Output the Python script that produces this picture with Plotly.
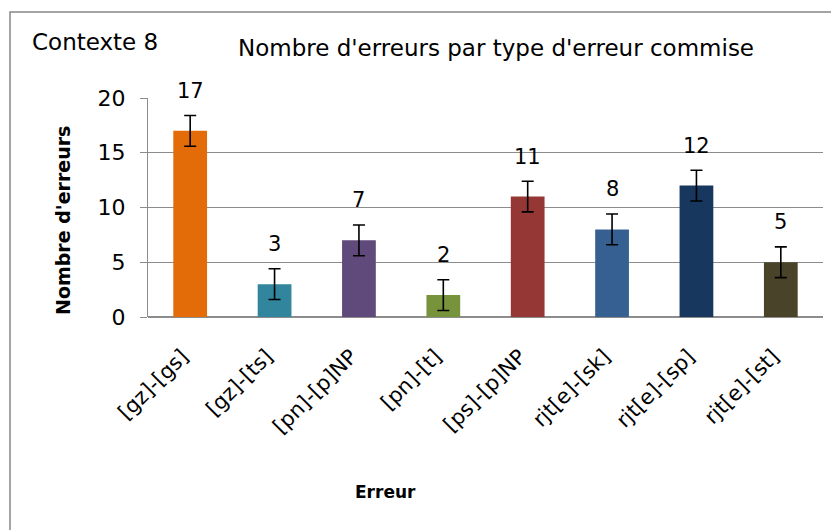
import plotly.graph_objects as go

categories = ["[gz]-[gs]", "[gz]-[ts]", "[pn]-[p]NP", "[pn]-[t]", "[ps]-[p]NP",
              "rjt[e]-[sk]", "rjt[e]-[sp]", "rjt[e]-[st]"]
values = [17, 3, 7, 2, 11, 8, 12, 5]
errors = [1.4, 1.4, 1.4, 1.4, 1.4, 1.4, 1.4, 1.4]
colors = ["#E36C09", "#31859C", "#604A7B", "#77933C", "#953735", "#376092", "#17375E", "#494429"]

FONT = "DejaVu Sans"
OFF = 8  # page body margin

W, H = 831, 522
L, R, T, B = 140, 16, 90, 213
pw = W - L - R
ph = H - T - B


def px(x):
    return (x - OFF - L) / pw


def py(y):
    return (H - B - (y - OFF)) / ph


fig = go.Figure()
fig.add_trace(go.Bar(
    x=categories, y=values,
    marker=dict(color=colors, line=dict(width=0)),
    error_y=dict(type="data", array=errors, visible=True, color="black", thickness=1.6, width=6),
    showlegend=False,
))

for c, v in zip(categories, values):
    fig.add_annotation(x=c, y=v, text=str(v), showarrow=False, yshift=40,
                       font=dict(family=FONT, size=21, color="black"))

fig.add_annotation(xref="paper", yref="paper", x=px(30), y=py(42), text="Contexte 8",
                   showarrow=False, xanchor="left", yanchor="middle",
                   font=dict(family=FONT, size=23, color="black"))
fig.add_annotation(xref="paper", yref="paper", x=px(496), y=py(48),
                   text="Nombre d'erreurs par type d'erreur commise",
                   showarrow=False, xanchor="center", yanchor="middle",
                   font=dict(family=FONT, size=23, color="black"))
fig.add_annotation(xref="paper", yref="paper", x=px(385), y=py(492), text="<b>Erreur</b>",
                   showarrow=False, xanchor="center", yanchor="middle",
                   font=dict(family=FONT, size=17, color="black"))
fig.add_annotation(xref="paper", yref="paper", x=px(63), y=py(221), text="<b>Nombre d'erreurs</b>",
                   showarrow=False, textangle=-90, xanchor="center", yanchor="middle",
                   font=dict(family=FONT, size=19, color="black"))

fig.add_shape(type="rect", xref="paper", yref="paper",
              x0=px(10), x1=px(900), y0=py(600), y1=py(12),
              line=dict(color="#878787", width=1.5), fillcolor="rgba(0,0,0,0)", layer="below")

fig.update_layout(
    width=W, height=H,
    margin=dict(l=L, r=R, t=T, b=B, autoexpand=False),
    paper_bgcolor="white", plot_bgcolor="white",
    bargap=0.6,
    font=dict(family=FONT, color="black"),
    xaxis=dict(tickangle=-45, tickfont=dict(family=FONT, size=21, color="black"),
               showline=False, showgrid=False, ticks="",
               ticklabelstandoff=22, ticklabelshift=-8, automargin=False),
    yaxis=dict(range=[0, 20], tickvals=[0, 5, 10, 15, 20],
               tickfont=dict(family=FONT, size=22, color="black"),
               showgrid=True, gridcolor="#8C8C8C", gridwidth=1.2,
               showline=True, linecolor="#8C8C8C", linewidth=1.2,
               ticks="outside", ticklen=7, tickcolor="#8C8C8C", tickwidth=1.2,
               ticklabelstandoff=10, automargin=False,
               zeroline=True, zerolinecolor="#8C8C8C", zerolinewidth=1.5),
)

fig.write_html("out.html")
